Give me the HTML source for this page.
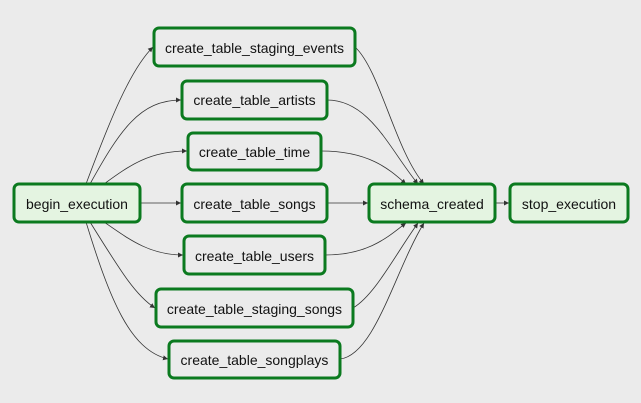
<!DOCTYPE html>
<html><head><style>
body{margin:0;background:#ebebeb;}
svg{display:block}
text{font-family:"Liberation Sans",Arial,sans-serif;font-size:14px;fill:#111;text-anchor:middle;dominant-baseline:central}
.n{fill:#ebebeb;stroke:#0b7a1f;stroke-width:3}
.g{fill:#e4f4e1;stroke:#0b7a1f;stroke-width:3}
.e{fill:none;stroke:#333;stroke-width:0.8}
</style></head><body>
<svg width="641" height="403" viewBox="0 0 641 403">
<defs><marker id="a" markerWidth="6" markerHeight="6" refX="5" refY="3" orient="auto" markerUnits="userSpaceOnUse"><path d="M0,0.5 L5,3 L0,5.5z" fill="#333"/></marker></defs>
<g class="e" marker-end="url(#a)">
<path d="M86,184 C110,120 130,70 153,47"/>
<path d="M90,184 C120,130 140,100 181,100"/>
<path d="M104,184 C130,165 150,151 187,151"/>
<path d="M141,203 L181,203"/>
<path d="M104,222 C130,240 150,255 183,255"/>
<path d="M90,222 C120,270 135,295 155,308"/>
<path d="M86,222 C110,300 130,350 168,359"/>
<path d="M355,47 C380,70 395,150 424,184"/>
<path d="M327,100 C370,100 390,150 418,184"/>
<path d="M321,151 C370,151 390,170 406,184"/>
<path d="M327,203 L368,203"/>
<path d="M325,255 C370,255 390,235 406,223"/>
<path d="M353,308 C375,295 395,255 418,223"/>
<path d="M340,359 C375,355 395,270 424,223"/>
<path d="M495,203 L509,203"/>
</g>
<rect class="g" x="14" y="184" width="126" height="38" rx="5"/><text x="77" y="204">begin_execution</text>
<rect class="n" x="154" y="28" width="201" height="38" rx="5"/><text x="254.5" y="48">create_table_staging_events</text>
<rect class="n" x="182" y="81" width="145" height="38" rx="5"/><text x="254.5" y="100">create_table_artists</text>
<rect class="n" x="188" y="133" width="133" height="37" rx="5"/><text x="254.5" y="152">create_table_time</text>
<rect class="n" x="182" y="184" width="145" height="38" rx="5"/><text x="254.5" y="204">create_table_songs</text>
<rect class="n" x="184" y="236" width="141" height="38" rx="5"/><text x="254.5" y="256">create_table_users</text>
<rect class="n" x="156" y="289" width="197" height="38" rx="5"/><text x="254.5" y="309">create_table_staging_songs</text>
<rect class="n" x="169" y="341" width="171" height="37" rx="5"/><text x="254.5" y="360">create_table_songplays</text>
<rect class="g" x="369" y="184" width="126" height="38" rx="5"/><text x="432" y="204">schema_created</text>
<rect class="g" x="510" y="184" width="118" height="38" rx="5"/><text x="569" y="204">stop_execution</text>
</svg>
</body></html>
